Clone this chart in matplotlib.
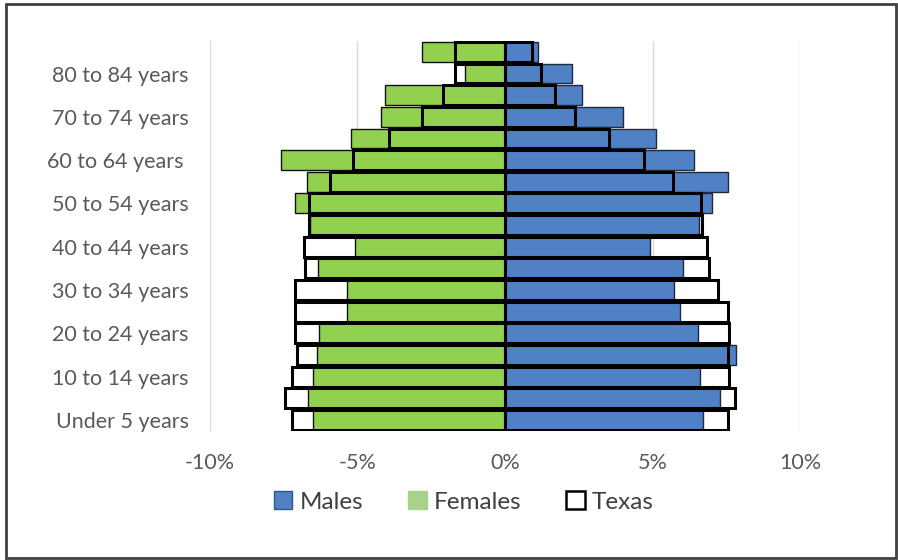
import matplotlib
matplotlib.use('Agg')
import matplotlib.pyplot as plt
from matplotlib.patches import Rectangle, Patch

# Age groups, bottom to top
age_groups = [
	'Under 5 years', '5 to 9 years', '10 to 14 years', '15 to 19 years',
	'20 to 24 years', '25 to 29 years', '30 to 34 years', '35 to 39 years',
	'40 to 44 years', '45 to 49 years', '50 to 54 years', '55 to 59 years',
	'60 to 64 years ', '65 to 69 years', '70 to 74 years', '75 to 79 years',
	'80 to 84 years', '85 years and over'
]

# Percent of population (females shown as negative)
males = [6.69, 7.28, 6.60, 7.82, 6.54, 5.92, 5.72, 6.01, 4.91, 6.57,
	7.00, 7.56, 6.41, 5.11, 3.98, 2.60, 2.26, 1.13]
females = [-6.51, -6.66, -6.51, -6.38, -6.29, -5.36, -5.36, -6.32, -5.08, -6.60,
	-7.11, -6.71, -7.59, -5.22, -4.21, -4.06, -1.35, -2.82]
texas_males = [7.56, 7.79, 7.59, 7.54, 7.59, 7.54, 7.22, 6.92, 6.83, 6.65,
	6.62, 5.70, 4.71, 3.53, 2.37, 1.69, 1.21, 0.90]
texas_females = [-7.22, -7.45, -7.22, -7.03, -7.11, -7.11, -7.11, -6.77, -6.80, -6.62,
	-6.62, -5.92, -5.13, -3.92, -2.82, -2.09, -1.69, -1.69]

x_ticks = [-10, -5, 0, 5, 10]
x_labels = ['-10%', '-5%', '0%', '5%', '10%']

blue = '#4F81C4'
green = '#92D050'
text_gray = '#595959'

plt.rcParams['font.family'] = ['Lato', 'DejaVu Sans']

def main():
	fig = plt.figure(figsize=(8.98, 5.60), dpi=100)
	ax = fig.add_axes([0.2334, 0.2307, 0.658, 0.696])

	y = list(range(len(age_groups)))
	h = 0.92

	ax.barh(y, males, height=h, color=blue, edgecolor='#1f2a3a', linewidth=1.0, zorder=2)
	ax.barh(y, females, height=h, color=green, edgecolor='#111111', linewidth=1.0, zorder=2)
	ax.barh(y, texas_males, height=h, fill=False, edgecolor='black', linewidth=2.2, zorder=3)
	ax.barh(y, texas_females, height=h, fill=False, edgecolor='black', linewidth=2.2, zorder=3)

	# Grid and center axis
	for gx in x_ticks:
		if gx != 0:
			ax.axvline(gx, color='#D9D9D9', linewidth=1.0, zorder=0)
	ax.axvline(0, color='#868686', linewidth=1.2, zorder=1)

	ax.set_xlim(-10, 10)
	ax.set_ylim(-0.5, len(age_groups) - 0.5)
	ax.set_xticks(x_ticks)
	ax.set_xticklabels(x_labels)
	ax.set_yticks(y[::2])
	ax.set_yticklabels(age_groups[::2], va='center_baseline')
	ax.tick_params(axis='x', length=0, pad=16, labelsize=15.5, labelcolor=text_gray)
	ax.tick_params(axis='y', length=0, pad=15, labelsize=15.5, labelcolor=text_gray)
	for s in ax.spines.values():
		s.set_visible(False)

	handles = [
		Patch(facecolor=blue, edgecolor='#2F5597', label='Males'),
		Patch(facecolor='#A9D18E', edgecolor='#A9D18E', label='Females'),
		Patch(facecolor='white', edgecolor='black', linewidth=1.8, label='Texas'),
	]
	fig.legend(handles=handles, loc='center', bbox_to_anchor=(464 / 898, 1 - 502 / 560),
		ncol=3, frameon=False, fontsize=17.5, handlelength=0.75, handleheight=0.75,
		handletextpad=0.3, columnspacing=1.85, labelcolor='#404040')

	# Outer frame
	fig.add_artist(Rectangle((6 / 898, 2 / 560), 890 / 898, 554 / 560,
		transform=fig.transFigure, fill=False, edgecolor='#404040', linewidth=2))

	fig.savefig('out.png', dpi=100)


if __name__ == '__main__':
	main()
